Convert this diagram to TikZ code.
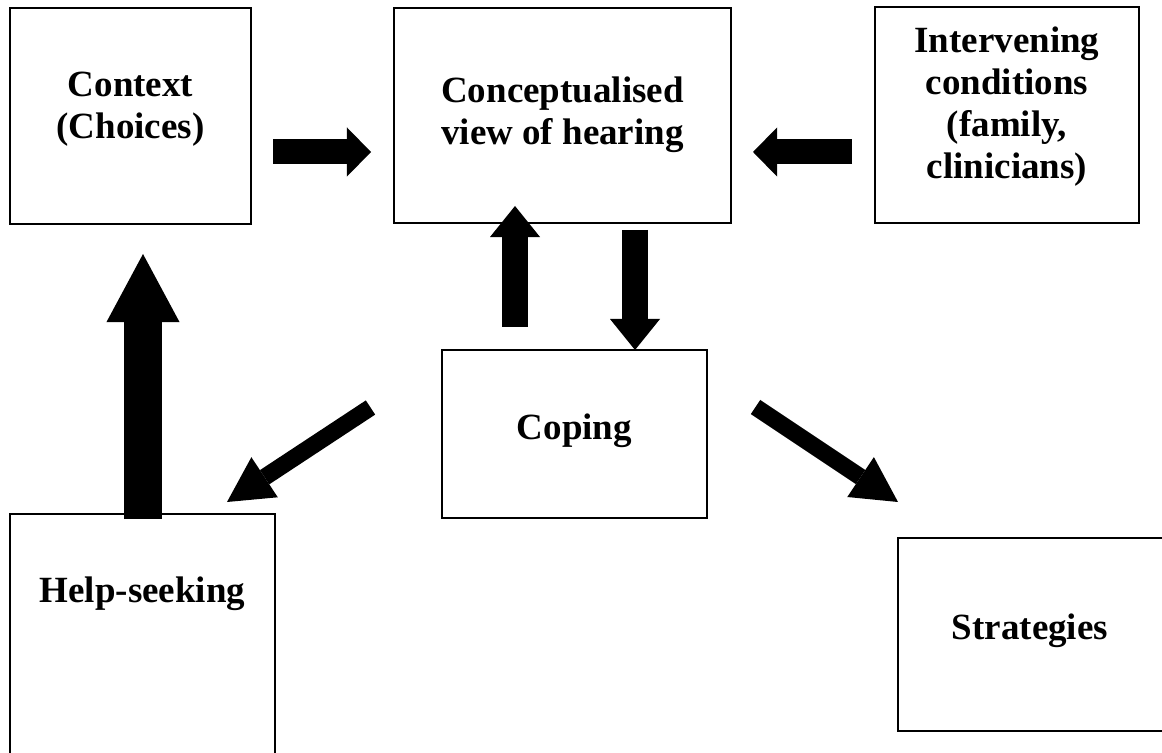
\documentclass[tikz,border=0pt]{standalone}
\usepackage{fontspec}
\setmainfont{Liberation Serif}
\usetikzlibrary{arrows.meta, positioning}
\tikzset{>=stealth}
\tikzset{
  box/.style={draw, line width=1.2pt, inner sep=0pt, outer sep=0pt},
  lbl/.style={font=\fontsize{26.3}{29.9}\selectfont\bfseries, align=center, inner sep=0pt},
  harr/.style={line width=0.625cm, -{Triangle[length=0.6cm, width=1.225cm, line width=0pt]}},
  varr/.style={line width=0.65cm, -{Triangle[length=0.775cm, width=1.25cm, line width=0pt]}},
  barr/.style={line width=0.95cm, -{Triangle[length=1.7cm, width=1.825cm, line width=0pt]}},
  darr/.style={line width=0.425cm, -{Triangle[length=1.125cm, width=1.2cm, line width=0pt]}}
}
\begin{document}
\begin{tikzpicture}[x=0.025cm, y=-0.025cm]
  \useasboundingbox (0,0) rectangle (1162,753);
  % boxes
  \node[box, minimum width=6.025cm, minimum height=5.4cm](ctx) at (130.5,116) {};
  \node[box, minimum width=8.425cm, minimum height=5.375cm](cvh) at (562.5,115.5) {};
  \node[box, minimum width=6.6cm, minimum height=5.4cm](ivc) at (1007,115) {};
  \node[box, minimum width=6.625cm, minimum height=4.2cm](cop) at (574.5,434) {};
  \node[box, minimum width=6.625cm, minimum height=6.65cm](hlp) at (142.5,647) {};
  \node[box, minimum width=6.925cm, minimum height=4.825cm](str) at (1036.5,634.5) {};
  % texts
  \node[lbl](ctxt) at (130.5,109) {Context\\(Choices)};
  \node[lbl](cvht) at (562.5,115) {Conceptualised\\view of hearing};
  \node[lbl](ivct) at (1007,107) {Intervening\\conditions\\(family,\\clinicians)};
  \node[lbl](copt) at (574.5,431) {Coping};
  \node[lbl](hlpt) at (142.5,594) {Help-seeking};
  \node[lbl](strt) at (1030,631) {Strategies};
  % arrow ends
  \coordinate (ca) at (273,152);  \coordinate (cb) at (371,152);
  \coordinate (ia) at (852,152);  \coordinate (ib) at (753,152);
  \coordinate (ua) at (515,327);  \coordinate (ub) at (515,206);
  \coordinate (da) at (635,230);  \coordinate (db) at (635,350);
  \coordinate (ha) at (143,519);  \coordinate (hb) at (143,254);
  \coordinate (la) at (370.5,407.5); \coordinate (lb) at (227,502);
  \coordinate (ra) at (755.5,407); \coordinate (rb) at (898,502);
  % arrows
  \draw[harr](ca)--(cb);
  \draw[harr](ia)--(ib);
  \draw[varr](ua)--(ub);
  \draw[varr](da)--(db);
  \draw[barr](ha)--(hb);
  \draw[darr](la)--(lb);
  \draw[darr](ra)--(rb);
\end{tikzpicture}
\end{document}
